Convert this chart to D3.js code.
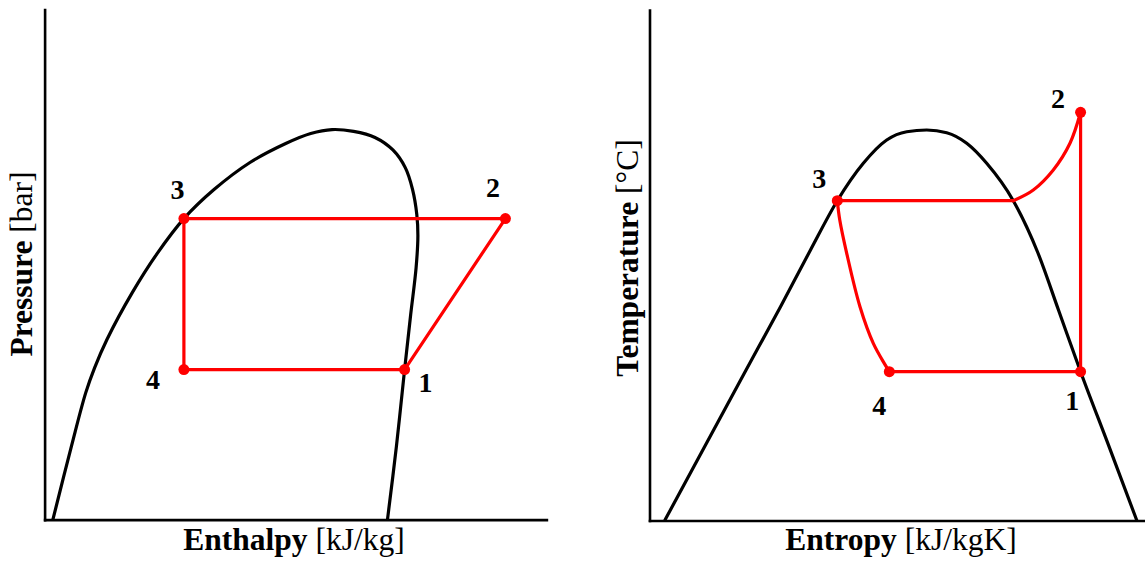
<!DOCTYPE html>
<html>
<head>
<meta charset="utf-8">
<script src="https://cdn.jsdelivr.net/npm/d3@7"></script>
<style>
  html, body { margin: 0; padding: 0; background: #fff; }
  svg { display: block; }
  text { font-family: "Liberation Serif", "Times New Roman", serif; fill: #000; }
</style>
</head>
<body>
<svg id="chart" width="1145" height="561"></svg>
<script>
// ---- Pressure–enthalpy diagram (normalised units, 0–100 on both axes) ----
const phDome = [
  [1.65, 0], [5.34, 14.35], [8.19, 24.84], [9.96, 29.74], [12.45, 35.35],
  [17.44, 44.44], [22.42, 52.15], [27.76, 59.01], [33.82, 64.75], [40.93, 70.01],
  [48.05, 73.73], [53.03, 75.69], [57.29, 76.46], [61.58, 76.10], [65.84, 74.91],
  [69.41, 72.46], [71.90, 68.95], [73.32, 64.75], [74.17, 59.85], [74.39, 55.66],
  [74.03, 49.34], [72.96, 40.25], [71.74, 29.41], [70.11, 14.35], [68.33, 0]
];
const phStates = ["1", "2", "3", "4"];
const phEnthalpy = [71.74, 91.83, 27.76, 27.76];
const phPressure = [29.41, 59.01, 59.01, 29.41];

// ---- Temperature–entropy diagram (normalised units, 0–100 on both axes) ----
const tsDome = [
  [3.07, 0], [19.27, 29.09], [26.44, 41.88], [32.49, 52.99], [37.90, 62.64],
  [43.15, 69.97], [47.87, 74.53], [51.91, 76.16], [55.95, 76.49], [59.98, 75.96],
  [64.02, 73.89], [68.05, 69.97], [73.42, 62.64], [78.40, 52.40], [82.54, 41.23],
  [87.00, 29.15], [92.73, 14.52], [98.35, 0]
];
const tsStates = ["1", "2", "3", "4"];
const tsEntropy = [87.00, 87.00, 37.90, 48.40];
const tsTemperature = [29.15, 79.96, 62.64, 29.15];
// desuperheating in the condenser: from state 2 down to saturated vapour
const tsDesuperheat = [[84.86, 73.89], [81.49, 68.66], [77.46, 64.74], [73.42, 62.64]];
// throttling 3 -> 4
const tsThrottle = [[38.40, 58.86], [39.80, 52.34], [42.48, 41.88], [45.17, 34.71]];

const RED = "#ff0000";
const svg = d3.select("#chart");

function makePanel(opt) {
  const x = d3.scaleLinear().domain([0, 100]).range([opt.left, opt.right]);
  const y = d3.scaleLinear().domain([0, 100]).range([opt.bottom, opt.top]);
  const g = svg.append("g");

  // axes: plain left and bottom lines
  const xAxis = g.append("g").attr("transform", `translate(0,${opt.bottom})`)
    .call(d3.axisBottom(x).tickValues([]).tickSizeOuter(0));
  const yAxis = g.append("g").attr("transform", `translate(${opt.left},0)`)
    .call(d3.axisLeft(y).tickValues([]).tickSizeOuter(0));
  [xAxis, yAxis].forEach(a => a.select(".domain")
    .attr("stroke", "#000").attr("stroke-width", 2.6).attr("stroke-linecap", "square"));

  // axis titles: bold quantity + regular unit
  const xt = g.append("text")
    .attr("x", opt.xTitleX).attr("y", 550)
    .attr("text-anchor", "middle").attr("font-size", 31.5);
  xt.append("tspan").attr("font-weight", "bold").text(opt.xName + " ");
  xt.append("tspan").text(opt.xUnit);

  const yt = g.append("text")
    .attr("transform", `translate(${opt.yTitleX},${opt.yTitleY}) rotate(-90)`)
    .attr("text-anchor", "middle").attr("font-size", 31.5);
  yt.append("tspan").attr("font-weight", "bold").text(opt.yName + " ");
  yt.append("tspan").text(opt.yUnit);

  return { x, y, g };
}

// ================= P-h panel =================
{
  const { x, y, g } = makePanel({
    left: 44.6, right: 546.4, top: 9.5, bottom: 519.6,
    xName: "Enthalpy", xUnit: "[kJ/kg]", xTitleX: 294,
    yName: "Pressure", yUnit: "[bar]", yTitleX: 32, yTitleY: 264
  });

  const line = d3.line().x(d => x(d[0])).y(d => y(d[1]));
  g.append("path").datum(phDome)
    .attr("d", line.curve(d3.curveCatmullRom.alpha(0.5)))
    .attr("fill", "none").attr("stroke", "#000").attr("stroke-width", 3.2);

  const pts = phStates.map((s, i) => ({ s, h: phEnthalpy[i], p: phPressure[i] }));
  g.append("path").datum(pts)
    .attr("d", d3.line().x(d => x(d.h)).y(d => y(d.p)).curve(d3.curveLinearClosed))
    .attr("fill", "none").attr("stroke", RED).attr("stroke-width", 3.2)
    .attr("stroke-linejoin", "round");

  g.selectAll("circle.state").data(pts).join("circle")
    .attr("cx", d => x(d.h)).attr("cy", d => y(d.p)).attr("r", 5.5).attr("fill", RED);

  const offs = { "1": [21, 13.3], "2": [-12.5, -31], "3": [-6.4, -29.3], "4": [-31, 10] };
  g.selectAll("text.state").data(pts).join("text")
    .attr("x", d => x(d.h) + offs[d.s][0]).attr("y", d => y(d.p) + offs[d.s][1])
    .attr("dy", "0.34em").attr("text-anchor", "middle")
    .attr("font-size", 28).attr("font-weight", "bold").text(d => d.s);
}

// ================= T-s panel =================
{
  const { x, y, g } = makePanel({
    left: 649.5, right: 1145, top: 10, bottom: 520.5,
    xName: "Entropy", xUnit: "[kJ/kgK]", xTitleX: 901,
    yName: "Temperature", yUnit: "[°C]", yTitleX: 638, yTitleY: 258
  });

  const lin = d3.line().x(d => x(d[0])).y(d => y(d[1]));
  const crv = d3.line().x(d => x(d[0])).y(d => y(d[1])).curve(d3.curveCatmullRom.alpha(0.5));
  const dome = d3.line().x(d => x(d[0])).y(d => y(d[1])).curve(d3.curveMonotoneX);

  g.append("path").datum(tsDome).attr("d", dome)
    .attr("fill", "none").attr("stroke", "#000").attr("stroke-width", 3.2);

  const st = tsStates.map((s, i) => [tsEntropy[i], tsTemperature[i]]);
  const satVap = tsDesuperheat[tsDesuperheat.length - 1];
  const segments = [
    { d: [st[0], st[1]], f: lin },                         // compression 1 -> 2
    { d: [st[1], ...tsDesuperheat], f: crv },               // desuperheating
    { d: [satVap, st[2]], f: lin },                         // condensation -> 3
    { d: [st[2], ...tsThrottle, st[3]], f: crv },           // throttling 3 -> 4
    { d: [st[3], st[0]], f: lin }                           // evaporation 4 -> 1
  ];
  g.selectAll("path.cycle").data(segments).join("path")
    .attr("class", "cycle")
    .attr("d", s => s.f(s.d))
    .attr("fill", "none").attr("stroke", RED).attr("stroke-width", 3.2)
    .attr("stroke-linecap", "round").attr("stroke-linejoin", "round");

  const pts = tsStates.map((s, i) => ({ s, sv: tsEntropy[i], t: tsTemperature[i] }));
  g.selectAll("circle.state").data(pts).join("circle")
    .attr("cx", d => x(d.sv)).attr("cy", d => y(d.t)).attr("r", 5.5).attr("fill", RED);

  const offs = { "1": [-8.3, 28.3], "2": [-22.7, -14], "3": [-18, -22.4], "4": [-10, 33.3] };
  g.selectAll("text.state").data(pts).join("text")
    .attr("x", d => x(d.sv) + offs[d.s][0]).attr("y", d => y(d.t) + offs[d.s][1])
    .attr("dy", "0.34em").attr("text-anchor", "middle")
    .attr("font-size", 28).attr("font-weight", "bold").text(d => d.s);
}
</script>
</body>
</html>
